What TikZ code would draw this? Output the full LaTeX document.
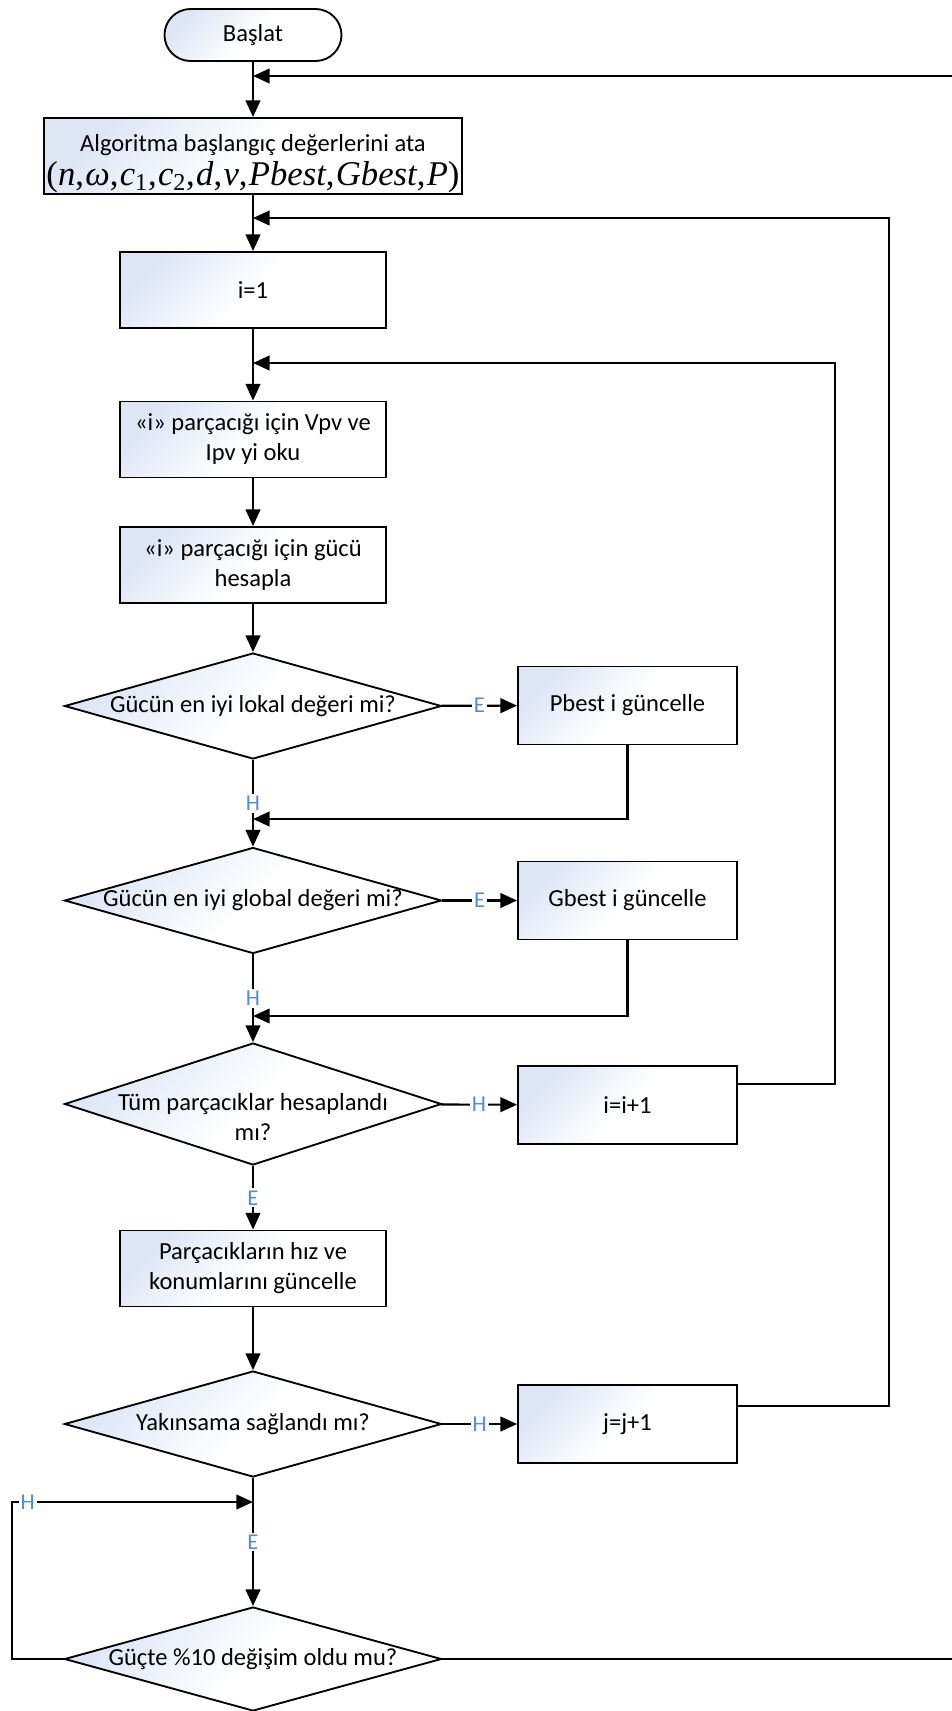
\documentclass[tikz,border=0pt]{standalone}
\usepackage{fontspec}
\setmainfont{Carlito}
\newfontfamily\tms{Liberation Serif}
\usetikzlibrary{shapes.geometric,arrows.meta}
\definecolor{labelblue}{RGB}{84,141,212}
\definecolor{shadeblue}{RGB}{222,230,246}

\begin{document}
\begin{tikzpicture}[x=0.75pt,y=-0.75pt,
  every node/.style={font=\fontsize{18.4}{22.5}\selectfont},
  boxfill/.style={top color=shadeblue, bottom color=white, middle color=white, shading angle=45},
  term/.style={rectangle, rounded corners=19.5pt, draw, line width=1.4pt,
    minimum width=132.75pt, minimum height=39pt, inner sep=0pt, boxfill},
  proc/.style={rectangle, draw, line width=1.4pt, minimum width=199.5pt,
    minimum height=57pt, inner sep=0pt, align=center, boxfill},
  side/.style={proc, minimum width=164.25pt, minimum height=58.5pt},
  decision/.style={diamond, draw, line width=1.4pt, minimum width=282.75pt,
    minimum height=79.5pt, inner sep=0pt, boxfill},
  flow/.style={draw, line width=1.6pt, -{Triangle[length=12.5pt,width=11pt]}},
  lab/.style={text=labelblue, fill=white, inner sep=1.5pt,
    font=\fontsize{17}{20}\selectfont}]

\useasboundingbox (0,0) rectangle (952,1711);
\clip (0,0) rectangle (952,1711);

% main column
\node[term] (start) at (253,35) {Başlat};
\node[proc, minimum width=313.5pt] (init) at (253,156)
  {\rule{0pt}{24pt}Algoritma başlangıç değerlerini ata\\[3pt]
   {\tms\fontsize{26}{28}\selectfont (\textit{n},\kern1pt\textit{ω},\kern1pt\textit{c}\textsubscript{1},\kern1pt\textit{c}\textsubscript{2},\kern1pt\textit{d},\kern1pt\textit{v},\kern1pt\textit{Pbest},\kern1pt\textit{Gbest},\kern1pt\textit{P})}};
\node[proc] (i1) at (253,290) {i=1};
\node[proc] (readv) at (253,439.5) {«i» parçacığı için Vpv ve\\Ipv yi oku};
\node[proc] (power) at (253,565) {«i» parçacığı için gücü\\hesapla};
\node[decision] (dloc) at (253,706) {\makebox[0pt]{Gücün en iyi lokal değeri mi?}};
\node[decision] (dglob) at (253,900.5) {\makebox[0pt]{Gücün en iyi global değeri mi?}};
\node[decision, minimum height=91.5pt] (dall) at (253,1104) {};
\node[align=center] (dalltxt) at (253,1117) {Tüm parçacıklar hesaplandı\\mı?};
\node[proc] (move) at (253,1268.5) {Parçacıkların hız ve\\konumlarını güncelle};
\node[decision] (dconv) at (253,1424) {\makebox[0pt]{Yakınsama sağlandı mı?}};
\node[decision, minimum height=78pt] (dchg) at (253,1659) {\makebox[0pt]{Güçte \%10 değişim oldu mu?}};

% side column
\node[side] (pbest) at (627.5,705.5) {Pbest i güncelle};
\node[side] (gbest) at (627.5,900.5) {Gbest i güncelle};
\node[side] (inci) at (627.5,1105) {i=i+1};
\node[side] (incj) at (627.5,1424) {j=j+1};

% junctions on the main column and corner points of the loops
\coordinate (jA) at (253,76);
\coordinate (jB) at (253,218);
\coordinate (jC) at (253,363);
\coordinate (jD) at (253,819);
\coordinate (jE) at (253,1016);
\coordinate (jF) at (253,1502);
\coordinate (rA) at (956,76);
\coordinate (rAb) at (956,1659);
\coordinate (rB) at (889,218);
\coordinate (rC) at (835,363);
\coordinate (lA) at (12,1502);
\coordinate (lB) at (12,1659);

% downward flow
\draw[flow] (start) -- (init);
\draw[flow] (init) -- (i1);
\draw[flow] (i1) -- (readv);
\draw[flow] (readv) -- (power);
\draw[flow] (power) -- (dloc);
\draw[flow] (dloc) -- node[lab]{H} (dglob);
\draw[flow] (dglob) -- node[lab]{H} (dall);
\draw[flow] (dall) -- node[lab]{E} (move);
\draw[flow] (move) -- (dconv);
\draw[flow] (dconv) -- node[lab]{E} (dchg);

% branches to the right
\draw[flow] (dloc) -- node[lab]{E} (pbest);
\draw[flow] (dglob) -- node[lab]{E} (gbest);
\draw[flow] (dall) -- node[lab]{H} (inci);
\draw[flow] (dconv) -- node[lab]{H} (incj);

% returns to the main column
\draw[flow] (pbest) |- (jD);
\draw[flow] (gbest) |- (jE);
\draw[flow] ([yshift=15.75pt]inci.east) -| (rC) -- (jC);
\draw[flow] ([yshift=13.5pt]incj.east) -| (rB) -- (jB);
\draw[flow] (dchg.east) -- (rAb) -- (rA) -- (jA);
\draw[flow] (dchg.west) -- (lB) -- (lA) -- node[lab, pos=0.065]{H} (jF);

\end{tikzpicture}
\end{document}
